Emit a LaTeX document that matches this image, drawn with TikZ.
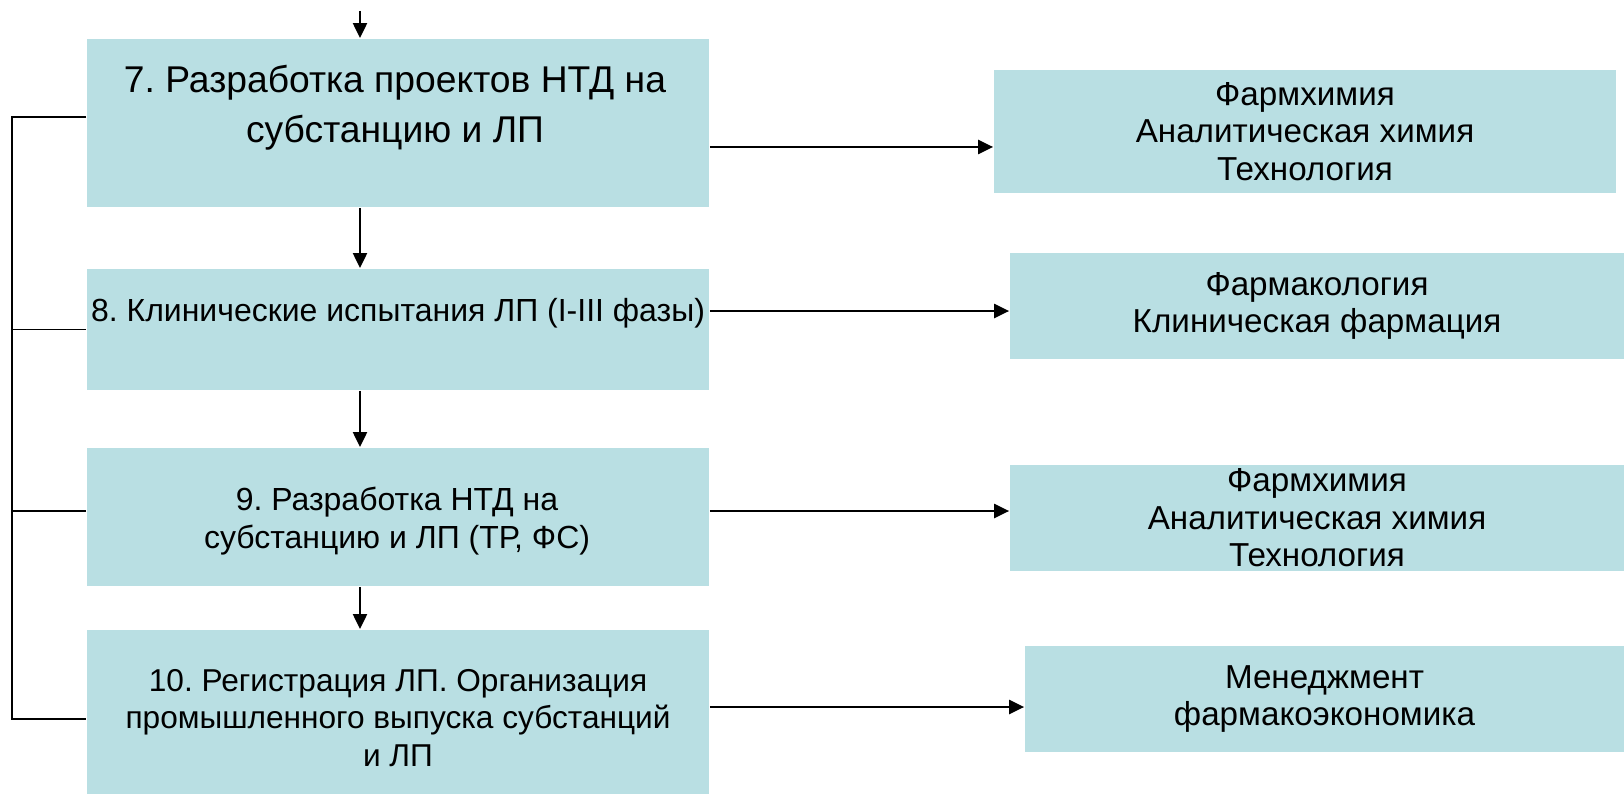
\documentclass[tikz,border=0pt]{standalone}
\usepackage{fontspec}
\setmainfont{Liberation Sans}
\frenchspacing
\usetikzlibrary{arrows.meta}
\definecolor{boxteal}{RGB}{185,223,227}
\tikzstyle{arrow} = [line width=1.1pt,-{Triangle[length=8.5pt,width=8pt]}]
\tikzstyle{stage} = [fill=boxteal, inner sep=0pt]
\tikzstyle{subj} = [fill=boxteal, inner sep=0pt, align=center, font=\fontsize{18.9}{21.3}\selectfont]

\begin{document}
\begin{tikzpicture}[x=0.02cm, y=-0.02cm, line width=1.1pt]
  \useasboundingbox (0,0) rectangle (1624,794);
  % stages
  \node[stage, minimum width=12.44cm, minimum height=3.36cm] (s7) at (398,123) {};
  \node[stage, minimum width=12.44cm, minimum height=2.42cm] (s8) at (398,329.5) {};
  \node[stage, minimum width=12.44cm, minimum height=2.76cm] (s9) at (398,517) {};
  \node[stage, minimum width=12.44cm, minimum height=3.28cm] (s10) at (398,712) {};
  \node[align=center, font=\fontsize{21.2}{28.4}\selectfont] (t7) at (395,108) {7. Разработка проектов НТД на\\субстанцию и ЛП};
  \node[align=center, font=\fontsize{18.2}{21.3}\selectfont] (t8) at (398,313) {8. Клинические испытания ЛП (I-III фазы)};
  \node[align=center, font=\fontsize{18.2}{21.3}\selectfont] (t9) at (397,521) {9. Разработка НТД на\\субстанцию и ЛП (ТР, ФС)};
  \node[align=center, font=\fontsize{18}{21.3}\selectfont] (t10) at (398,718) {10. Регистрация ЛП. Организация\\промышленного выпуска субстанций\\и ЛП};
  % disciplines
  \node[subj, minimum width=12.44cm, minimum height=2.46cm] (r1) at (1305,131.5) {Фармхимия\\Аналитическая химия\\Технология};
  \node[subj, minimum width=12.28cm, minimum height=2.12cm] (r2) at (1317,306) {Фармакология\\Клиническая фармация};
  \node[subj, minimum width=12.28cm, minimum height=2.12cm] (r3) at (1317,518) {Фармхимия\\Аналитическая химия\\Технология};
  \node[subj, minimum width=11.98cm, minimum height=2.12cm] (r4) at (1324.5,699) {Менеджмент\\фармакоэкономика};
  % flow down
  \coordinate (top) at (360,11);
  \draw[arrow] (top) -- (top |- s7.north);
  \draw[arrow] (s7.south -| top) -- (s8.north -| top);
  \draw[arrow] (s8.south -| top) -- (s9.north -| top);
  \draw[arrow] (s9.south -| top) -- (s10.north -| top);
  % to disciplines
  \draw[arrow] ([yshift=-0.48cm]s7.east) -- ([yshift=-0.48cm]s7.east -| r1.west);
  \draw[arrow] ([yshift=0.37cm]s8.east) -- ([yshift=0.37cm]s8.east -| r2.west);
  \draw[arrow] ([yshift=0.12cm]s9.east) -- ([yshift=0.12cm]s9.east -| r3.west);
  \draw[arrow] ([yshift=0.1cm]s10.east) -- ([yshift=0.1cm]s10.east -| r4.west);
  % left bracket
  \coordinate (brk) at (12,0);
  \draw ([yshift=0.12cm]s7.west) -- ([yshift=0.12cm]s7.west -| brk) -- ([yshift=-0.14cm]s10.west -| brk) -- ([yshift=-0.14cm]s10.west);
  \draw (s8.west) -- (s8.west -| brk);
  \draw ([yshift=0.12cm]s9.west) -- ([yshift=0.12cm]s9.west -| brk);
\end{tikzpicture}
\end{document}
